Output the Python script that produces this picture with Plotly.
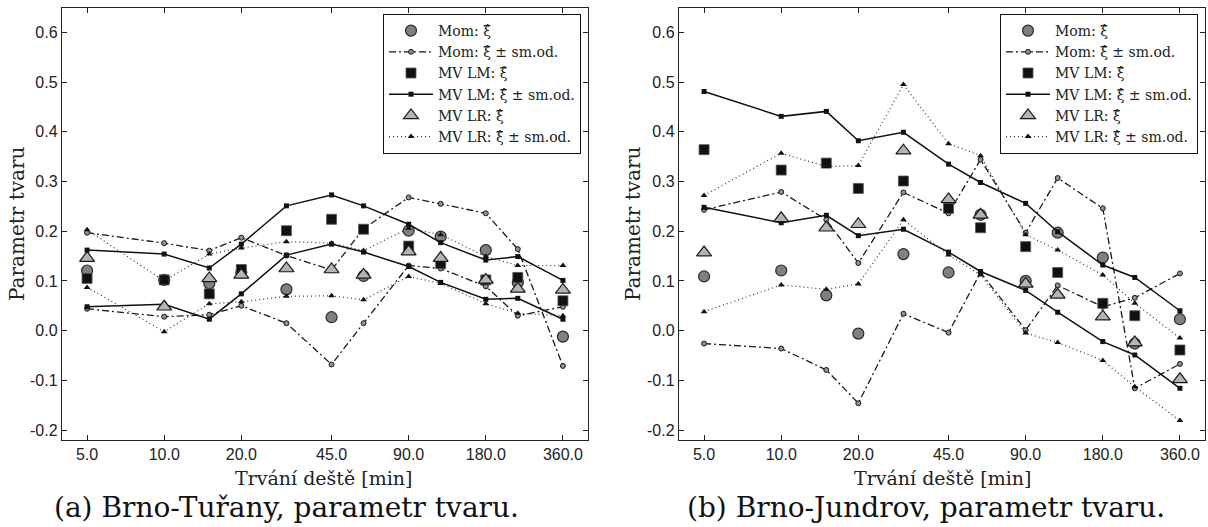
import plotly.graph_objects as go

# ---------------- data ----------------
durations = [5, 10, 15, 20, 30, 45, 60, 90, 120, 180, 240, 360]
x_tick_vals = [5, 10, 20, 45, 90, 180, 360]
x_tick_text = ["5.0", "10.0", "20.0", "45.0", "90.0", "180.0", "360.0"]
y_tick_vals = [-0.2, -0.1, 0.0, 0.1, 0.2, 0.3, 0.4, 0.5, 0.6]
y_tick_text = ["-0.2", "-0.1", "0.0", "0.1", "0.2", "0.3", "0.4", "0.5", "0.6"]

# (a) Brno-Tuřany
mom_a = [0.121, 0.102, 0.095, 0.117, 0.083, 0.027, 0.110, 0.201, 0.189, 0.162, 0.097, -0.012]
mom_a_up = [0.197, 0.176, 0.161, 0.187, 0.151, 0.122, 0.205, 0.268, 0.255, 0.236, 0.164, -0.071]
mom_a_lo = [0.044, 0.028, 0.032, 0.050, 0.015, -0.068, 0.015, 0.131, 0.125, 0.089, 0.030, 0.048]
mvlm_a = [0.105, 0.102, 0.074, 0.123, 0.201, 0.224, 0.204, 0.170, 0.135, 0.102, 0.107, 0.060]
mvlm_a_up = [0.162, 0.154, 0.126, 0.174, 0.251, 0.273, 0.251, 0.214, 0.177, 0.142, 0.149, 0.101]
mvlm_a_lo = [0.048, 0.053, 0.023, 0.074, 0.152, 0.174, 0.158, 0.129, 0.097, 0.063, 0.065, 0.023]
mvlr_a = [0.146, 0.048, 0.105, 0.112, 0.125, 0.123, 0.112, 0.159, 0.146, 0.102, 0.084, 0.082]
mvlr_a_up = [0.203, 0.100, 0.154, 0.166, 0.179, 0.176, 0.161, 0.206, 0.193, 0.149, 0.131, 0.131]
mvlr_a_lo = [0.087, -0.002, 0.054, 0.058, 0.069, 0.070, 0.062, 0.109, 0.095, 0.054, 0.035, 0.030]

# (b) Brno-Jundrov
mom_b = [0.109, 0.121, 0.071, -0.006, 0.154, 0.117, 0.233, 0.100, 0.197, 0.147, -0.026, 0.023]
mom_b_up = [0.243, 0.279, 0.223, 0.136, 0.278, 0.236, 0.344, 0.197, 0.307, 0.246, -0.116, -0.067]
mom_b_lo = [-0.026, -0.036, -0.079, -0.146, 0.034, -0.004, 0.117, 0.001, 0.091, 0.048, 0.066, 0.115]
mvlm_b = [0.364, 0.323, 0.337, 0.286, 0.301, 0.246, 0.207, 0.169, 0.117, 0.055, 0.030, -0.039]
mvlm_b_up = [0.481, 0.431, 0.441, 0.382, 0.399, 0.335, 0.298, 0.256, 0.199, 0.132, 0.107, 0.040]
mvlm_b_lo = [0.248, 0.217, 0.232, 0.191, 0.204, 0.158, 0.119, 0.081, 0.037, -0.022, -0.049, -0.116]
mvlr_b = [0.157, 0.226, 0.207, 0.214, 0.362, 0.264, 0.233, 0.094, 0.072, 0.028, -0.024, -0.098]
mvlr_b_up = [0.272, 0.357, 0.330, 0.332, 0.495, 0.376, 0.352, 0.193, 0.162, 0.112, 0.055, -0.015]
mvlr_b_lo = [0.038, 0.092, 0.083, 0.094, 0.223, 0.152, 0.112, -0.005, -0.024, -0.060, -0.113, -0.181]

legend_names = ["Mom: ξ̂", "Mom: ξ̂ ± sm.od.", "MV LM: ξ̂", "MV LM: ξ̂ ± sm.od.",
                "MV LR: ξ̂", "MV LR: ξ̂ ± sm.od."]
captions = ["(a) Brno-Tuřany, parametr tvaru.", "(b) Brno-Jundrov, parametr tvaru."]
x_title = "Trvání deště [min]"
y_title = "Parametr tvaru"

# ---------------- figure ----------------
W, H = 1208, 527
SERIF = "DejaVu Serif"
SANS = "Liberation Sans"

fig = go.Figure()


def band(up, lo):
    return durations + [None] + durations, up + [None] + lo


def add_panel(mom, mom_up, mom_lo, lm, lm_up, lm_lo, lr, lr_up, lr_lo, xa, ya, leg):
    common = dict(xaxis=xa, yaxis=ya, legend=leg)
    fig.add_trace(go.Scatter(x=durations, y=mom, mode="markers", name=legend_names[0],
                             marker=dict(symbol="circle", size=11, color="#808080",
                                         line=dict(color="#2a2a2a", width=1.2)), **common))
    bx, by = band(mom_up, mom_lo)
    fig.add_trace(go.Scatter(x=bx, y=by, mode="lines+markers", name=legend_names[1],
                             line=dict(color="#1a1a1a", width=1.3, dash="7px,3px,2px,3px"),
                             marker=dict(symbol="circle", size=5, color="#909090",
                                         line=dict(color="#1a1a1a", width=1)), **common))
    fig.add_trace(go.Scatter(x=durations, y=lm, mode="markers", name=legend_names[2],
                             marker=dict(symbol="square", size=10, color="#111111",
                                         line=dict(color="#555555", width=0.8)), **common))
    bx, by = band(lm_up, lm_lo)
    fig.add_trace(go.Scatter(x=bx, y=by, mode="lines+markers", name=legend_names[3],
                             line=dict(color="#111111", width=1.5),
                             marker=dict(symbol="square", size=5, color="#111111"), **common))
    fig.add_trace(go.Scatter(x=durations, y=lr, mode="markers", name=legend_names[4],
                             marker=dict(symbol="triangle-up", size=13, color="#b4b4b4",
                                         line=dict(color="#1a1a1a", width=1.2)), **common))
    bx, by = band(lr_up, lr_lo)
    fig.add_trace(go.Scatter(x=bx, y=by, mode="lines+markers", name=legend_names[5],
                             line=dict(color="#333333", width=1.2, dash="1px,3px"),
                             marker=dict(symbol="triangle-up", size=6, color="#111111"), **common))


add_panel(mom_a, mom_a_up, mom_a_lo, mvlm_a, mvlm_a_up, mvlm_a_lo, mvlr_a, mvlr_a_up, mvlr_a_lo,
          "x", "y", "legend")
add_panel(mom_b, mom_b_up, mom_b_lo, mvlm_b, mvlm_b_up, mvlm_b_lo, mvlr_b, mvlr_b_up, mvlr_b_lo,
          "x2", "y2", "legend2")


def px_x(p):
    return p / W


def px_y(p):
    return 1 - p / H


frame_top, frame_bot = 8, 440
left_frame = (62, 588)
right_frame = (679, 1205)
left_dom = [px_x(left_frame[0]), px_x(left_frame[1])]
right_dom = [px_x(right_frame[0]), px_x(right_frame[1])]
y_dom = [px_y(frame_bot), px_y(frame_top)]

xaxis_common = dict(type="log", range=[0.6011, 2.6542], tickvals=x_tick_vals, ticktext=x_tick_text,
                    ticks="inside", ticklen=5, tickwidth=1, tickcolor="#222", showline=True,
                    linecolor="#222", linewidth=1.4, mirror="ticks", showgrid=False, zeroline=False,
                    tickfont=dict(family=SANS, size=16, color="#222"))
yaxis_common = dict(range=[-0.22, 0.649], tickvals=y_tick_vals, ticktext=y_tick_text,
                    ticks="inside", ticklen=5, tickwidth=1, tickcolor="#222", showline=True,
                    linecolor="#222", linewidth=1.4, mirror="ticks", showgrid=False, zeroline=False,
                    tickfont=dict(family=SANS, size=16, color="#222"))

legend_common = dict(bgcolor="white", bordercolor="#111", borderwidth=1,
                     font=dict(family=SERIF, size=14, color="#222"),
                     xanchor="right", yanchor="top", tracegroupgap=0, itemwidth=44)

fig.update_layout(
    width=W, height=H,
    margin=dict(l=0, r=0, t=0, b=0, autoexpand=False),
    paper_bgcolor="white", plot_bgcolor="white",
    xaxis=dict(domain=left_dom, anchor="y", **xaxis_common),
    yaxis=dict(domain=y_dom, anchor="x", **yaxis_common),
    xaxis2=dict(domain=right_dom, anchor="y2", **xaxis_common),
    yaxis2=dict(domain=y_dom, anchor="x2", **yaxis_common),
    legend=dict(x=px_x(left_frame[1] - 7), y=px_y(frame_top + 6), **legend_common),
    legend2=dict(x=px_x(right_frame[1] - 7), y=px_y(frame_top + 6), **legend_common),
    showlegend=True,
)

annotations = [
    dict(text=x_title, x=px_x(323), y=px_y(478), xref="paper", yref="paper", showarrow=False,
         font=dict(family=SERIF, size=19, color="#222"), xanchor="center", yanchor="middle"),
    dict(text=x_title, x=px_x(942), y=px_y(478), xref="paper", yref="paper", showarrow=False,
         font=dict(family=SERIF, size=19, color="#222"), xanchor="center", yanchor="middle"),
    dict(text=y_title, x=px_x(17), y=px_y(224), xref="paper", yref="paper", showarrow=False,
         textangle=-90, font=dict(family=SERIF, size=20, color="#222"),
         xanchor="center", yanchor="middle"),
    dict(text=y_title, x=px_x(633), y=px_y(224), xref="paper", yref="paper", showarrow=False,
         textangle=-90, font=dict(family=SERIF, size=20, color="#222"),
         xanchor="center", yanchor="middle"),
    dict(text=captions[0], x=px_x(286), y=px_y(507), xref="paper", yref="paper", showarrow=False,
         font=dict(family=SERIF, size=28, color="#111"), xanchor="center", yanchor="middle"),
    dict(text=captions[1], x=px_x(926), y=px_y(507), xref="paper", yref="paper", showarrow=False,
         font=dict(family=SERIF, size=28, color="#111"), xanchor="center", yanchor="middle"),
]
fig.update_layout(annotations=annotations)

# remove the default 8px page margin so the figure sits at the window's top-left corner
fig.write_html("out.html", config={"displayModeBar": False},
               post_script="document.body.style.margin='0px';document.body.style.overflow='hidden';")
